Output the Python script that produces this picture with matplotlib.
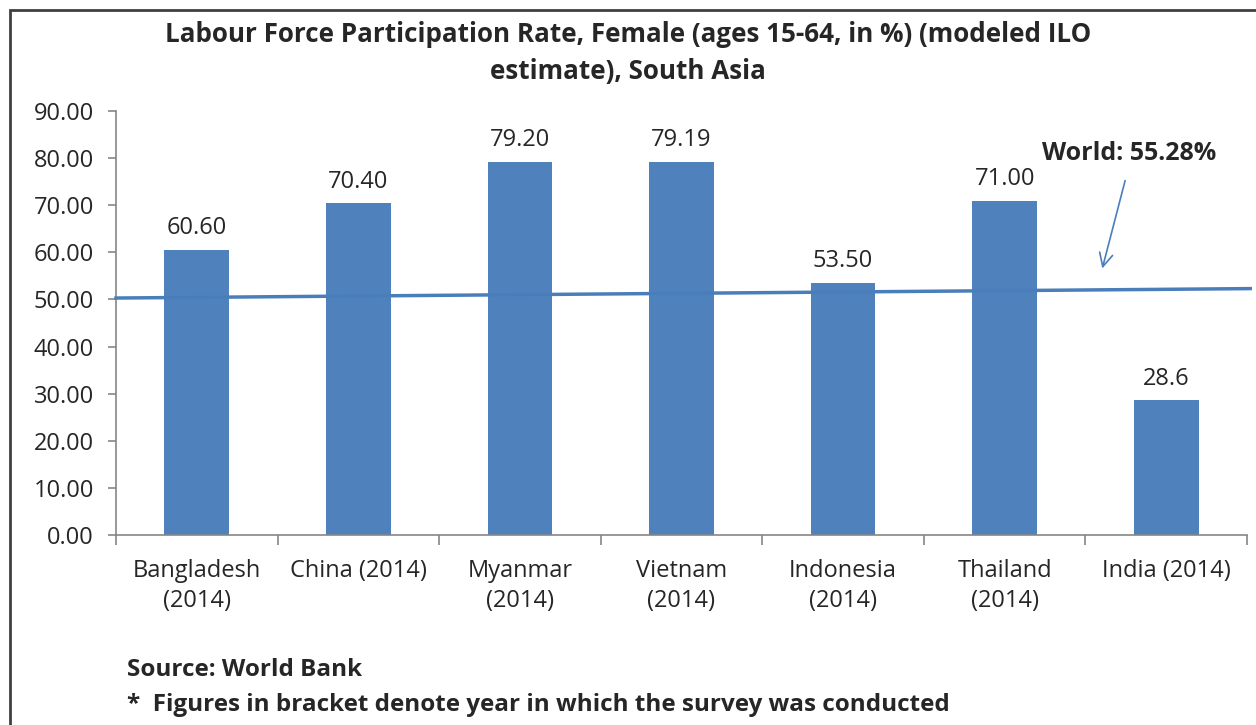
import matplotlib.pyplot as plt
import matplotlib.patches as patches
import numpy as np

plt.rcParams["font.family"] = ["Open Sans", "DejaVu Sans"]

countries = ["Bangladesh\n(2014)", "China (2014)", "Myanmar\n(2014)", "Vietnam\n(2014)",
             "Indonesia\n(2014)", "Thailand\n(2014)", "India (2014)"]
rates = [60.60, 70.40, 79.20, 79.19, 53.50, 71.00, 28.6]
rate_labels = ["60.60", "70.40", "79.20", "79.19", "53.50", "71.00", "28.6"]

# world reference line, drawn across the full category span
world_x = [-0.5, 6.52]
world_y = [50.3, 52.3]
world_label = "World: 55.28%"

bar_color = "#4F81BD"
text_color = "#262626"

fig = plt.figure(figsize=(12.56, 7.25), dpi=100)
ax = fig.add_axes([116 / 1256, 1 - 535 / 725, (1247 - 116) / 1256, (535 - 111) / 725])

x = np.arange(len(countries))
ax.bar(x, rates, width=0.4, color=bar_color, zorder=2)
for xi, v, lab in zip(x, rates, rate_labels):
    ax.annotate(lab, (xi, v), xytext=(0, 7), textcoords="offset points",
                ha="center", va="bottom", fontsize=17, color=text_color)

ax.plot(world_x, world_y, color="#4A7EBB", linewidth=2.5, zorder=3, clip_on=False)

ax.annotate("", xy=(5.6, 56.0), xytext=(5.75, 75.8),
            arrowprops=dict(arrowstyle="->", color="#4A7EBB", lw=1.2,
                            mutation_scale=24))
ax.text(5.77, 81.0, world_label, ha="center", va="center", fontsize=18,
        fontweight="bold", color=text_color)

ax.set_xlim(-0.5, 6.5)
ax.set_ylim(0, 90)
ax.set_yticks(np.arange(0, 91, 10))
ax.set_yticklabels([f"{t:.2f}" for t in np.arange(0, 91, 10)])
ax.set_xticks(x)
ax.set_xticklabels(countries, linespacing=1.35)
ax.set_xticks(np.arange(-0.5, 7, 1), minor=True)
ax.tick_params(axis="x", which="major", length=0, pad=17, labelsize=17, labelcolor=text_color)
ax.tick_params(axis="x", which="minor", length=7, color="#868686", width=1.2)
ax.tick_params(axis="y", length=6, color="#868686", width=1.2, labelsize=17,
               labelcolor=text_color, pad=10)

for s in ["top", "right"]:
    ax.spines[s].set_visible(False)
for s in ["left", "bottom"]:
    ax.spines[s].set_color("#868686")
    ax.spines[s].set_linewidth(1.2)

fig.text(0.5, 1 - 34 / 725, "Labour Force Participation Rate, Female (ages 15-64, in %) (modeled ILO",
         ha="center", va="center", fontsize=18.7, fontweight="bold", color=text_color)
fig.text(0.5, 1 - 71 / 725, "estimate), South Asia",
         ha="center", va="center", fontsize=18.7, fontweight="bold", color=text_color)

fig.text(127 / 1256, 1 - 670 / 725, "Source: World Bank", ha="left", va="center",
         fontsize=17.5, fontweight="bold", color=text_color)
fig.text(127 / 1256, 1 - 705 / 725,
         "*  Figures in bracket denote year in which the survey was conducted",
         ha="left", va="center", fontsize=17.5, fontweight="bold", color=text_color)

frame = patches.Rectangle((10 / 1256, -0.1), 1.1, 1 - 10 / 725 + 0.1,
                          transform=fig.transFigure, fill=False,
                          edgecolor="#404040", linewidth=2)
fig.patches.append(frame)

fig.savefig("out.png", dpi=100)
